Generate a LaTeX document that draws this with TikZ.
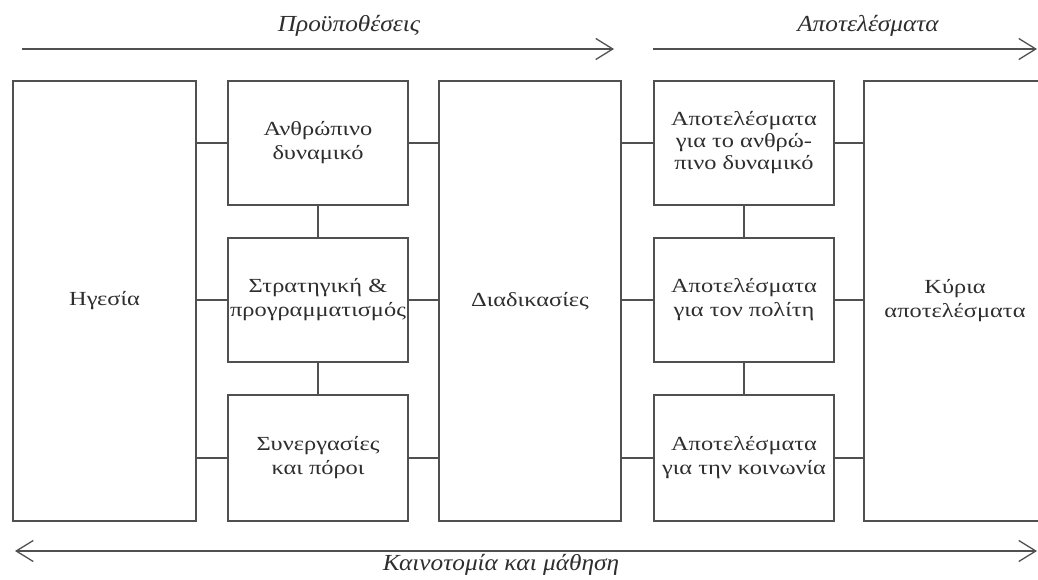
\documentclass[tikz,border=0pt]{standalone}
\usepackage{fontspec}
\setmainfont{Liberation Serif}
\newfontfamily\boxfont[FakeStretch=1.22]{Liberation Serif}
\newfontfamily\labfont[FakeStretch=1.1]{Liberation Serif}
\usetikzlibrary{arrows.meta}
\definecolor{ink}{HTML}{2E2E2E}
\definecolor{rule}{HTML}{505050}
\begin{document}
\begin{tikzpicture}[x=1pt,y=-1pt,
  box/.style={draw=rule, line width=1.3pt, rectangle, inner sep=0pt, align=center,
    text=ink, font=\boxfont\fontsize{20}{24}\selectfont},
  link/.style={draw=rule, line width=1.3pt},
  flow/.style={draw=rule, line width=1.3pt, -{Straight Barb[length=17pt,width=21pt,line width=1.3pt]}},
  both/.style={draw=rule, line width=1.3pt, {Straight Barb[length=17pt,width=21pt,line width=1.3pt]}-{Straight Barb[length=17pt,width=21pt,line width=1.3pt]}},
  lab/.style={anchor=base, inner sep=0pt, text=ink, font=\labfont\itshape\fontsize{23}{27}\selectfont}]
\useasboundingbox (0,0) rectangle (1038,580);
\clip (0,0) rectangle (1038,580);
% boxes
\node[box, minimum width=183pt, minimum height=440pt] (hg) at (104.5,301) {Ηγεσία};
\node[box, minimum width=180pt, minimum height=124pt] (a1) at (318,143) {Ανθρώπινο\\δυναμικό};
\node[box, minimum width=180pt, minimum height=124pt] (a2) at (318,300) {Στρατηγική \&\\προγραμματισμός};
\node[box, minimum width=180pt, minimum height=126pt] (a3) at (318,458) {Συνεργασίες\\και πόροι};
\node[box, minimum width=182pt, minimum height=440pt] (dd) at (530,301) {Διαδικασίες};
\node[box, minimum width=180pt, minimum height=124pt, font=\boxfont\fontsize{20}{22}\selectfont] (r1) at (744,143) {Αποτελέσματα\\για το ανθρώ-\\πινο δυναμικό};
\node[box, minimum width=180pt, minimum height=124pt] (r2) at (744,300) {Αποτελέσματα\\για τον πολίτη};
\node[box, minimum width=180pt, minimum height=126pt] (r3) at (744,458) {Αποτελέσματα\\για την κοινωνία};
\node[box, minimum width=182pt, minimum height=440pt] (ky) at (955,301) {Κύρια\\αποτελέσματα};
% connectors
\foreach \n in {a1,a2,a3}{
  \draw[link] (hg.east |- \n.west) -- (\n.west);
  \draw[link] (\n.east) -- (dd.west |- \n.east);
}
\foreach \n in {r1,r2,r3}{
  \draw[link] (dd.east |- \n.west) -- (\n.west);
  \draw[link] (\n.east) -- (ky.west |- \n.east);
}
\draw[link] (a1.south) -- (a2.north);
\draw[link] (a2.south) -- (a3.north);
\draw[link] (r1.south) -- (r2.north);
\draw[link] (r2.south) -- (r3.north);
% arrows
\coordinate (p0) at (22,49);
\coordinate (p1) at (614,49);
\coordinate (q0) at (653,49);
\coordinate (q1) at (1037,49);
\coordinate (k0) at (15,551);
\coordinate (k1) at (1037,551);
\draw[flow] (p0) -- (p1);
\draw[flow] (q0) -- (q1);
\draw[both] (k0) -- (k1);
\node[lab] (tp) at (349,32) {Προϋποθέσεις};
\node[lab] (ta) at (868,32) {Αποτελέσματα};
\node[lab] (tk) at (501,570) {Καινοτομία και μάθηση};
\end{tikzpicture}
\end{document}
